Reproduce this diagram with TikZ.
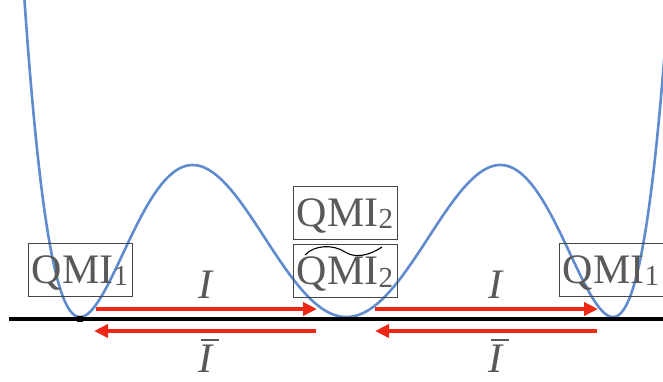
\documentclass[tikz,border=0pt]{standalone}
\usepackage{fontspec}
\setmainfont{Liberation Serif}
\usetikzlibrary{arrows.meta}
\definecolor{curveblue}{RGB}{96,140,206}
\definecolor{arrred}{RGB}{238,40,22}
\definecolor{txtgray}{RGB}{89,89,89}
\definecolor{boxgray}{RGB}{70,70,70}
\newcommand{\qmisub}[1]{QMI\raisebox{-2.5pt}{\fontsize{29}{29}\selectfont #1}}
\newcommand{\ibar}{\rlap{\kern3pt\rule[31pt]{18pt}{2pt}}I}
\begin{document}
\begin{tikzpicture}[x=1pt,y=-1pt,
  qbox/.style={draw=boxgray, line width=1pt, inner sep=0pt, minimum width=104pt,
    text height=40pt, text depth=13pt, text=txtgray, font=\fontsize{42}{42}\selectfont},
  lab/.style={inner sep=0pt, anchor=base, text=txtgray, font=\fontsize{42}{42}\selectfont\itshape},
  redarrow/.style={draw=arrred, line width=4pt, -{Triangle[length=14pt,width=13pt]}},
  potential/.style={draw=curveblue, line width=2.6pt, line join=round},
  axisline/.style={draw=black, line width=4.5pt},
]
\useasboundingbox (0,0) rectangle (663,381);
\clip (0,0) rectangle (663,381);
\fill[white] (0,0) rectangle (663,381);

% potential curve
\draw[potential, domain=-1.225:1.2, samples=400, smooth]
  plot ({346.5+266.5*\x}, {317-1026*\x*\x*(\x*\x-1)*(\x*\x-1)});

% baseline
\coordinate (bl) at (9,319);
\coordinate (br) at (663,319);
\draw[axisline] (bl) -- (br);
\node[fill=black, minimum size=6pt, inner sep=0pt] (sq) at (80,319) {};

% arrows
\coordinate (a1s) at (96,309);   \coordinate (a1e) at (317,309);
\coordinate (a2s) at (375,309);  \coordinate (a2e) at (598,309);
\coordinate (b1s) at (316,331);  \coordinate (b1e) at (94,331);
\coordinate (b2s) at (597,331);  \coordinate (b2e) at (375,331);
\draw[redarrow] (a1s) -- (a1e);
\draw[redarrow] (a2s) -- (a2e);
\draw[redarrow] (b1s) -- (b1e);
\draw[redarrow] (b2s) -- (b2e);

% boxes
\node[qbox] (q1l) at (80,269.5) {\qmisub{1}};
\node[qbox] (q2t) at (345,212.5) {\qmisub{2}};
\node[qbox] (q2b) at (345,271) {\qmisub{2}};
\node[qbox] (q1r) at (611,269.5) {\qmisub{1}};

% tilde over bottom QMI2
\draw[black, line width=1.1pt] (305,255) .. controls (314,245) and (333,244) .. (345,252)
  .. controls (356,259) and (370,255) .. (382,247);

% labels
\node[lab] (il) at (205,298) {I};
\node[lab] (ir) at (495,298) {I};
\node[lab] (ibl) at (205,372) {\ibar};
\node[lab] (ibr) at (495,372) {\ibar};
\end{tikzpicture}
\end{document}
